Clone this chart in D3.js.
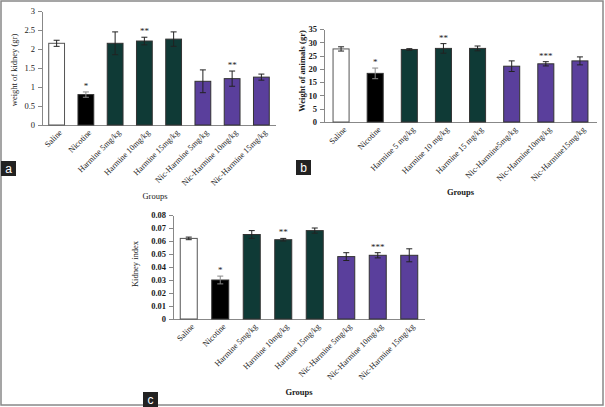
<!DOCTYPE html>
<html>
<head>
<meta charset="utf-8">
<style>
body { margin: 0; background: #fff; }
text { font-family: "Liberation Serif", "Times New Roman", serif; fill: #1a1a1a; }
.axis path, .axis line { stroke: #888; shape-rendering: crispEdges; }
.axis text { font-size: 8.5px; fill: #1a1a1a; }
</style>
</head>
<body>
<script src="https://cdn.jsdelivr.net/npm/d3@7/dist/d3.min.js"></script>
<script>

// panel a: kidney weight
var groupsA = ["Saline", "Nicotine", "Harmine 5mg/kg", "Harmine 10mg/kg", "Harmine 15mg/kg",
               "Nic-Harmine 5mg/kg", "Nic-Harmine 10mg/kg", "Nic-Harmine 15mg/kg"];
var kidneyWeight = [2.15, 0.80, 2.15, 2.21, 2.26, 1.15, 1.22, 1.26];
var kidneyWeightErr = [0.08, 0.07, 0.30, 0.10, 0.19, 0.30, 0.20, 0.08];
var starsA = ["", "*", "", "**", "", "", "**", ""];

// panel b: animal weight
var groupsB = ["Saline", "Nicotine", "Harmine 5 mg/kg", "Harmine 10 mg/kg", "Harmine 15 mg/kg",
               "Nic-Harmine5mg/kg", "Nic-Harmine10mg/kg", "Nic-Harmine15mg/kg"];
var animalWeight = [27.5, 18.3, 27.3, 27.7, 27.7, 21.0, 21.9, 23.0];
var animalWeightErr = [0.8, 2.0, 0.3, 1.8, 0.9, 2.0, 0.8, 1.5];
var starsB = ["", "*", "", "**", "", "", "***", ""];

// panel c: kidney index
var groupsC = ["Saline", "Nicotine", "Harmine 5mg/kg", "Harmine 10mg/kg", "Harmine 15mg/kg",
               "Nic-Harmine 5mg/kg", "Nic-Harmine 10mg/kg", "Nic-Harmine 15mg/kg"];
var kidneyIndex = [0.062, 0.030, 0.065, 0.061, 0.068, 0.048, 0.049, 0.049];
var kidneyIndexErr = [0.001, 0.003, 0.003, 0.001, 0.002, 0.003, 0.002, 0.005];
var starsC = ["", "*", "", "**", "", "", "***", ""];

var barColors = ["#ffffff", "#000000", "#0f3a36", "#0f3a36", "#0f3a36", "#5a3f9c", "#5a3f9c", "#5a3f9c"];

var width = 605, height = 407;

var svg = d3.select("body").append("svg")
    .attr("width", width)
    .attr("height", height);

// outer frame
svg.append("rect")
    .attr("x", 1).attr("y", 1)
    .attr("width", width - 3).attr("height", height - 3)
    .attr("fill", "none")
    .attr("stroke", "#888")
    .attr("stroke-width", 1.5);

function drawPanel(p) {
  var x = d3.scaleBand().domain(p.groups).range([p.x0, p.x1]).paddingInner(p.pad).paddingOuter(p.pad / 2);
  var y = d3.scaleLinear().domain([0, p.max]).range([p.y0, p.y1]);

  var g = svg.append("g");

  g.append("g")
      .attr("class", "axis")
      .attr("transform", "translate(" + p.x0 + ",0)")
      .call(d3.axisLeft(y).tickValues(p.ticks).tickFormat(p.fmt).tickSize(4).tickSizeOuter(0))
      .selectAll("text").style("font-weight", p.bold ? "bold" : "normal");

  g.append("line")
      .attr("x1", p.x0).attr("x2", p.x1)
      .attr("y1", p.y0 + 0.5).attr("y2", p.y0 + 0.5)
      .attr("stroke", "#888");

  var bars = g.selectAll(".bar").data(p.values).enter();

  bars.append("rect")
      .attr("x", function(d, i) { return x(p.groups[i]); })
      .attr("y", function(d) { return y(d); })
      .attr("width", x.bandwidth())
      .attr("height", function(d) { return p.y0 - y(d); })
      .attr("fill", function(d, i) { return barColors[i]; })
      .attr("stroke", function(d, i) { return i == 0 ? "#555" : "#333"; })
      .attr("stroke-width", 1);

  // error bars
  p.values.forEach(function(v, i) {
    var cx = x(p.groups[i]) + x.bandwidth() / 2;
    var e = p.errs[i];
    var col = i == 1 ? "#888" : "#222";
    g.append("line")
        .attr("x1", cx).attr("x2", cx)
        .attr("y1", y(v + e)).attr("y2", y(v - e))
        .attr("stroke", col).attr("stroke-width", 1);
    [v + e, v - e].forEach(function(t) {
      g.append("line")
          .attr("x1", cx - 3).attr("x2", cx + 3)
          .attr("y1", y(t)).attr("y2", y(t))
          .attr("stroke", col).attr("stroke-width", 1);
    });
    if (p.stars[i]) {
      g.append("text")
          .attr("x", cx)
          .attr("y", y(v + e) - 3)
          .attr("text-anchor", "middle")
          .style("font-size", "9px")
          .text(p.stars[i]);
    }
  });

  // category labels
  p.groups.forEach(function(name, i) {
    var cx = x(name) + x.bandwidth() / 2 + 4;
    g.append("text")
        .attr("transform", "translate(" + cx + "," + (p.y0 + 6) + ") rotate(-45)")
        .attr("text-anchor", "end")
        .attr("dy", "0.35em")
        .style("font-size", "8.3px")
        .text(name);
  });

  g.append("text")
      .attr("x", (p.x0 + p.x1) / 2 + p.groupsDx)
      .attr("y", p.groupsY)
      .attr("text-anchor", "middle")
      .style("font-size", "8.5px")
      .style("font-weight", p.bold ? "bold" : "normal")
      .text("Groups");

  g.append("text")
      .attr("transform", "translate(" + p.ylabX + "," + p.ylabY + ") rotate(-90)")
      .attr("text-anchor", "middle")
      .style("font-size", "8.5px")
      .style("font-weight", p.ylabBold ? "bold" : "normal")
      .text(p.ylabel);

  // panel letter box
  g.append("rect")
      .attr("x", p.boxX).attr("y", p.boxY)
      .attr("width", 15).attr("height", 15)
      .attr("fill", "#222");
  g.append("text")
      .attr("x", p.boxX + 7.5).attr("y", p.boxY + 11.5)
      .attr("text-anchor", "middle")
      .style("font-family", "Liberation Sans, Arial, sans-serif")
      .style("font-size", "12px")
      .style("fill", "#fff")
      .text(p.letter);
}

drawPanel({
  groups: groupsA, values: kidneyWeight, errs: kidneyWeightErr, stars: starsA,
  x0: 42, x1: 276, y0: 125, y1: 11, max: 3, pad: 0.46,
  ticks: [0, 0.5, 1, 1.5, 2, 2.5, 3], fmt: d3.format(""),
  ylabel: "weight of kidney (gr)", ylabX: 17, ylabY: 70, ylabBold: false,
  groupsY: 199, groupsDx: -4, bold: false,
  letter: "a", boxX: 1, boxY: 161
});

drawPanel({
  groups: groupsB, values: animalWeight, errs: animalWeightErr, stars: starsB,
  x0: 324, x1: 597, y0: 122, y1: 29, max: 35, pad: 0.53,
  ticks: [0, 5, 10, 15, 20, 25, 30, 35], fmt: d3.format(""),
  ylabel: "Weight of animals (gr)", ylabX: 305, ylabY: 71, ylabBold: true,
  groupsY: 195, groupsDx: 0, bold: true,
  letter: "b", boxX: 296, boxY: 160
});

drawPanel({
  groups: groupsC, values: kidneyIndex, errs: kidneyIndexErr, stars: starsC,
  x0: 173, x1: 425, y0: 319, y1: 215, max: 0.08, pad: 0.46,
  ticks: [0, 0.01, 0.02, 0.03, 0.04, 0.05, 0.06, 0.07, 0.08], fmt: function(d) { return d === 0 ? "0" : d3.format(".2f")(d); },
  ylabel: "Kidney index", ylabX: 138, ylabY: 264, ylabBold: false,
  groupsY: 395, groupsDx: 0, bold: true,
  letter: "c", boxX: 143, boxY: 392
});

</script>
</body>
</html>
